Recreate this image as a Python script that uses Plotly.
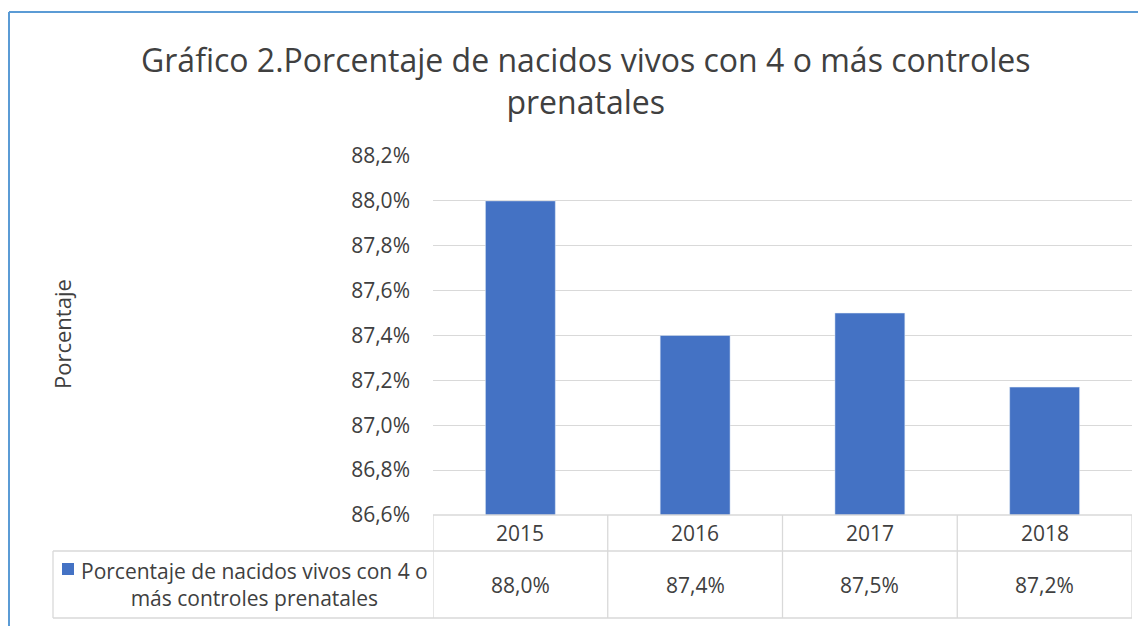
import plotly.graph_objects as go

categories = ["2015", "2016", "2017", "2018"]
values = [88.0, 87.4, 87.5, 87.17]
series_name = "Porcentaje de nacidos vivos con 4 o<br>más controles prenatales"
title_text = "Gráfico 2.Porcentaje de nacidos vivos con 4 o más controles<br>prenatales"
y_min, y_max = 86.6, 88.2
tick_vals = [86.6, 86.8, 87.0, 87.2, 87.4, 87.6, 87.8, 88.0, 88.2]
tick_text = [f"{v:.1f}%".replace(".", ",") for v in tick_vals]
table_text = [f"{v:.1f}%".replace(".", ",") for v in values]

OFF = 8  # page body margin in the browser
W, H = 1146 - OFF, 626 - OFF
L, R, T, B = 433, 1132, 156, 515  # plot area in page pixels
pw, ph = R - L, B - T


def px(x):
    return (x - L) / pw


def py(y):
    return (B - y) / ph


FONT = "Open Sans"
TXT = "#404040"
BAR = "#4472C4"
GRID = "#D9D9D9"

fig = go.Figure()
fig.add_trace(go.Bar(x=categories, y=values, marker_color=BAR, width=0.4,
                     showlegend=False, hoverinfo="skip"))

shapes = []
line = dict(color=GRID, width=1.3)
shapes.append(dict(type="line", xref="paper", yref="paper", x0=0, x1=1, y0=0, y1=0, line=line))
for yy in (551, 618):
    shapes.append(dict(type="line", xref="paper", yref="paper", x0=px(53), x1=1,
                       y0=py(yy), y1=py(yy), line=line))
for i in range(len(categories) + 1):
    shapes.append(dict(type="line", xref="x", yref="paper", x0=i - 0.5, x1=i - 0.5,
                       y0=0, y1=py(618), line=line))
shapes.append(dict(type="line", xref="paper", yref="paper", x0=px(53), x1=px(53),
                   y0=py(551), y1=py(618), line=line))
shapes.append(dict(type="rect", xref="paper", yref="paper", x0=px(62), x1=px(74),
                   y0=py(575), y1=py(563), fillcolor=BAR, line=dict(width=0)))
border = dict(color="#5B9BD5", width=2)
shapes.append(dict(type="line", xref="paper", yref="paper", x0=px(9), x1=px(1170),
                   y0=py(12), y1=py(12), line=border))
shapes.append(dict(type="line", xref="paper", yref="paper", x0=px(9), x1=px(9),
                   y0=py(12), y1=py(650), line=border))

f = dict(family=FONT, size=21, color=TXT)
annotations = []
n = len(categories)
for i, (c, t) in enumerate(zip(categories, table_text)):
    xc = (i + 0.5) / n  # centre of category column in paper coords
    annotations.append(dict(x=xc, y=py(533), xref="paper", yref="paper", text=c,
                            showarrow=False, font=f, xanchor="center", yanchor="middle"))
    annotations.append(dict(x=xc, y=py(585), xref="paper", yref="paper", text=t,
                            showarrow=False, font=f, xanchor="center", yanchor="middle"))
annotations.append(dict(x=px(254), y=py(584), xref="paper", yref="paper", text=series_name,
                        showarrow=False, align="center", xanchor="center", yanchor="middle",
                        font=f))
annotations.append(dict(x=px(62), y=py(334), xref="paper", yref="paper", text="Porcentaje",
                        showarrow=False, textangle=-90, yanchor="middle", xanchor="center",
                        font=dict(family=FONT, size=22, color=TXT)))
annotations.append(dict(x=px(585), y=py(80), xref="paper", yref="paper", text=title_text,
                        showarrow=False, align="center", xanchor="center", yanchor="middle",
                        font=dict(family=FONT, size=32, color=TXT)))

fig.update_layout(
    width=W, height=H,
    margin=dict(l=L - OFF, r=W - (R - OFF), t=T - OFF, b=H - (B - OFF), pad=0),
    paper_bgcolor="white", plot_bgcolor="white",
    shapes=shapes, annotations=annotations,
    xaxis=dict(type="category", range=[-0.5, 3.5], showticklabels=False, showgrid=False,
               zeroline=False, showline=False),
    yaxis=dict(range=[y_min, y_max], tickvals=tick_vals, ticktext=tick_text,
               showgrid=True, gridcolor=GRID, gridwidth=1.3, zeroline=False, showline=False,
               ticks="", ticklabelstandoff=22,
               tickfont=dict(family=FONT, size=21, color=TXT)),
)

fig.write_html("out.html")
